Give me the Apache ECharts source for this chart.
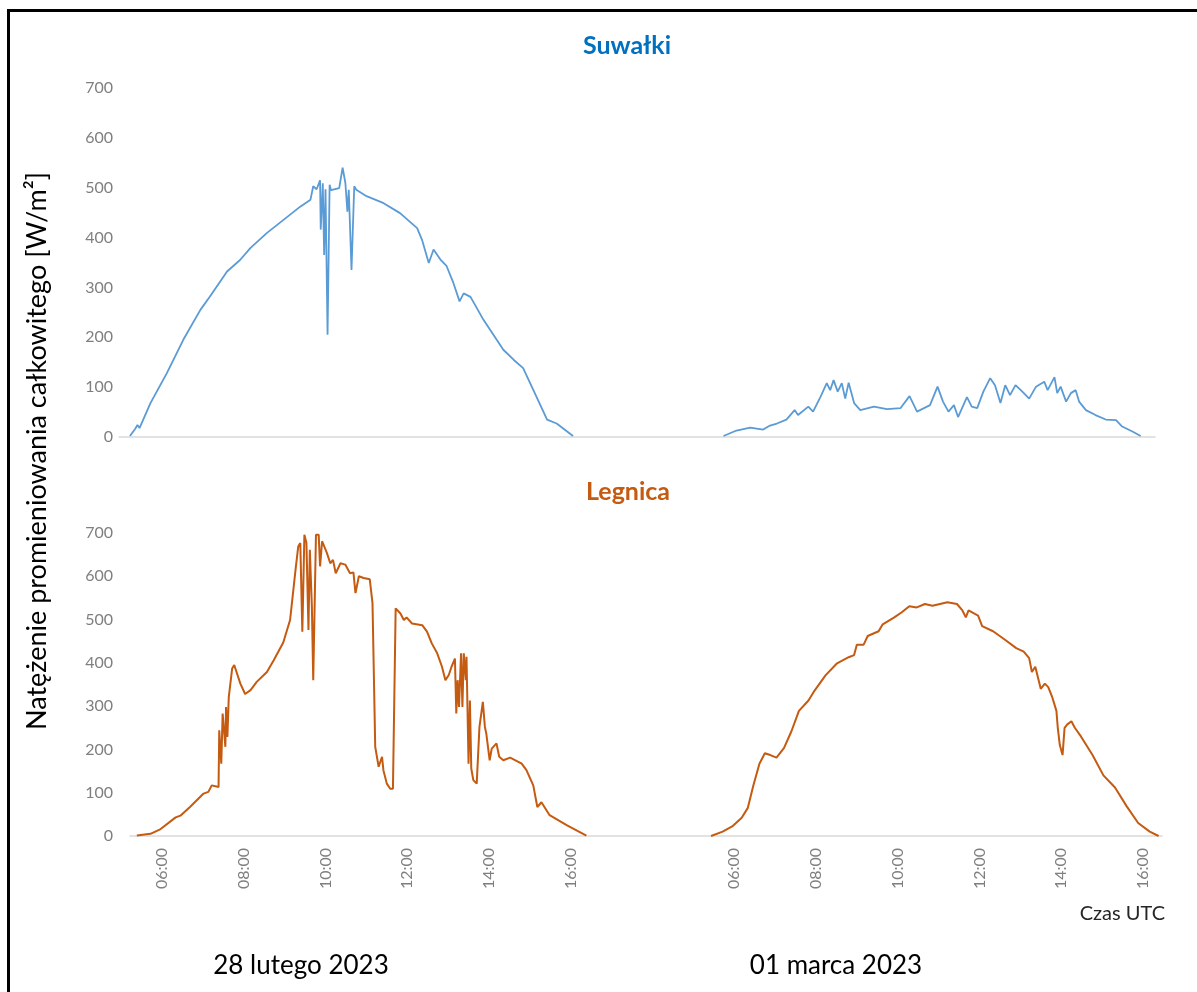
<!DOCTYPE html>
<html>
<head>
<meta charset="utf-8">
<script src="https://cdn.jsdelivr.net/npm/echarts@6/dist/echarts.min.js"></script>
<style>
  html, body { margin: 0; padding: 0; background: #fff; }
  #wrap { position: relative; width: 1197px; height: 992px; }
  #chart { width: 1197px; height: 992px; }
  #frame { position: absolute; left: 7px; top: 9px; right: 0; bottom: 0;
           border-left: 3px solid #000; border-top: 3px solid #000; pointer-events: none; }
</style>
</head>
<body>
<div id="wrap"><div id="chart"></div><div id="frame"></div></div>
<script>
// ---------- DATA ----------
const stations = ['Suwałki', 'Legnica'];
const dayLabels = ['28 lutego 2023', '01 marca 2023'];
const tickTimes = ['06:00', '08:00', '10:00', '12:00', '14:00', '16:00'];
const yTicks = [0, 100, 200, 300, 400, 500, 600, 700];
const axisStart = '05:13';   // day 1
const axisEnd = '16:28';     // day 2

const suwalkiDay1Times = ['05:29','05:37','05:40','05:43','05:59','06:23','06:47','07:12','07:26','07:51','08:10','08:25','08:49','09:14','09:38','09:53','09:57','10:02','10:07','10:08','10:11','10:13','10:15','10:18','10:21','10:23','10:35','10:40','10:44','10:47','10:49','10:53','10:57','11:00','11:15','11:40','12:04','12:29','12:36','12:46','12:53','13:03','13:12','13:22','13:31','13:37','13:47','14:06','14:35','14:50','15:04','15:19','15:39','15:53','16:17'];
const suwalkiDay1Values = [2,17,24,18,68,128,195,255,282,332,355,379,409,436,462,476,503,497,515,416,509,365,497,205,506,495,499,540,510,452,496,335,503,496,483,469,449,419,396,349,376,356,343,309,272,288,281,235,175,155,138,94,35,27,2];

const suwalkiDay2Times = ['05:57','06:16','06:36','06:55','07:05','07:15','07:29','07:41','07:46','08:01','08:08','08:19','08:28','08:33','08:38','08:44','08:50','08:55','09:00','09:08','09:17','09:37','09:56','10:16','10:29','10:40','10:59','11:10','11:18','11:26','11:34','11:40','11:53','12:00','12:08','12:17','12:27','12:34','12:42','12:49','12:56','13:04','13:14','13:24','13:34','13:46','13:51','14:01','14:05','14:10','14:18','14:25','14:32','14:37','14:47','15:01','15:16','15:31','15:40','15:55','16:07'];
const suwalkiDay2Values = [2,13,19,15,23,27,35,54,44,61,51,81,108,94,114,91,108,77,109,68,54,61,56,58,82,51,64,101,71,51,64,40,80,61,58,91,118,104,68,104,84,104,91,77,101,111,94,120,88,101,71,88,94,71,54,44,35,34,21,11,2];

const legnicaDay1Times = ['05:23','05:43','05:58','06:20','06:27','06:41','07:01','07:08','07:13','07:23','07:24','07:27','07:29','07:33','07:34','07:36','07:38','07:43','07:46','07:55','08:02','08:10','08:19','08:34','08:44','08:58','09:08','09:16','09:20','09:23','09:26','09:29','09:32','09:35','09:37','09:40','09:42','09:46','09:50','09:52','09:55','10:02','10:07','10:11','10:15','10:22','10:29','10:36','10:41','10:44','10:49','10:56','11:05','11:09','11:11','11:13','11:18','11:23','11:25','11:30','11:35','11:39','11:43','11:50','11:55','11:59','12:07','12:22','12:29','12:36','12:44','12:51','12:56','13:01','13:05','13:10','13:12','13:14','13:16','13:19','13:21','13:23','13:26','13:27','13:30','13:32','13:34','13:37','13:42','13:46','13:51','13:54','13:56','14:01','14:04','14:11','14:15','14:21','14:31','14:41','14:48','14:55','15:05','15:11','15:17','15:29','15:54','16:23'];
const legnicaDay1Values = [1,5,16,43,47,67,98,102,117,113,244,167,283,206,298,229,321,387,395,352,328,337,356,379,406,447,499,615,669,677,472,696,677,476,661,530,360,696,696,623,681,654,630,638,607,630,627,607,609,561,600,596,593,538,534,206,160,183,152,121,109,109,526,514,499,505,491,487,472,445,422,391,360,372,391,410,283,360,298,422,298,422,360,414,167,313,156,129,121,252,310,252,237,175,202,214,183,175,181,173,167,152,117,67,78,48,25,1];

const legnicaDay2Times = ['05:26','05:43','05:57','06:11','06:20','06:28','06:37','06:45','06:53','07:02','07:13','07:24','07:35','07:49','07:58','08:14','08:31','08:48','08:56','09:00','09:10','09:16','09:32','09:38','09:55','10:06','10:17','10:28','10:40','10:51','11:02','11:13','11:27','11:35','11:40','11:44','11:58','12:04','12:20','12:37','12:54','13:05','13:13','13:17','13:22','13:30','13:36','13:41','13:47','13:53','13:55','13:58','14:02','14:05','14:09','14:15','14:20','14:29','14:46','15:02','15:19','15:36','15:53','16:10','16:23'];
const legnicaDay2Values = [0,10,22,42,65,116,167,191,187,181,203,242,289,313,336,371,399,413,418,442,442,462,473,489,505,517,531,528,536,532,536,540,536,521,505,521,509,485,473,454,434,426,411,379,391,340,352,344,320,289,250,210,187,250,258,265,250,230,187,140,112,69,30,10,0];

// ---------- BUILD ----------
const DAY_GAP = 14; // compressed position of day 2 on the shared axis (hours)
function toAxis(time, day) {
  const p = time.split(':').map(Number);
  return p[0] + p[1] / 60 + day * DAY_GAP;
}
function pairs(times, values, day) {
  return times.map((t, i) => [toAxis(t, day), values[i]]);
}
const tickValues = [];
const tickMap = {};
[0, 1].forEach(d => tickTimes.forEach(t => { const v = toAxis(t, d); tickValues.push(v); tickMap[v.toFixed(3)] = t; }));

const FONT = 'Lato, "Open Sans", sans-serif';
const xMin = toAxis(axisStart, 0), xMax = toAxis(axisEnd, 1);

function xAxis(gridIndex, showLabels) {
  return {
    type: 'value', gridIndex, min: xMin, max: xMax,
    axisLine: { show: true, onZero: true, lineStyle: { color: '#d9d9d9', width: 1.5 } },
    axisTick: { show: false },
    splitLine: { show: false },
    axisLabel: {
      show: showLabels, customValues: tickValues, rotate: 90, margin: 12,
      color: '#7f7f7f', fontSize: 16, fontFamily: FONT,
      formatter: v => tickMap[Number(v).toFixed(3)] || ''
    }
  };
}
function yAxis(gridIndex, margin) {
  return {
    type: 'value', gridIndex, min: yTicks[0], max: yTicks[yTicks.length - 1], interval: 100,
    axisLine: { show: false }, axisTick: { show: false }, splitLine: { show: false },
    axisLabel: { color: '#7f7f7f', fontSize: 16, fontFamily: FONT, margin }
  };
}
function line(name, data, xi, color, width) {
  return {
    name, type: 'line', xAxisIndex: xi, yAxisIndex: xi, data,
    showSymbol: false, symbol: 'none', smooth: false,
    lineStyle: { color, width }, itemStyle: { color }, z: 3
  };
}

const blue = '#5b9bd5', orange = '#c55a11';
const option = {
  backgroundColor: '#ffffff',
  animation: false,
  grid: [
    { left: 119, right: 42, top: 88, bottom: 555 },
    { left: 130, right: 35, top: 533, bottom: 156 }
  ],
  xAxis: [xAxis(0, false), xAxis(1, true)],
  yAxis: [yAxis(0, 6), yAxis(1, 17)],
  series: [
    line(stations[0], pairs(suwalkiDay1Times, suwalkiDay1Values, 0), 0, blue, 1.8),
    line(stations[0], pairs(suwalkiDay2Times, suwalkiDay2Values, 1), 0, blue, 1.8),
    line(stations[1], pairs(legnicaDay1Times, legnicaDay1Values, 0), 1, orange, 2),
    line(stations[1], pairs(legnicaDay2Times, legnicaDay2Values, 1), 1, orange, 2)
  ],
  graphic: [
    { type: 'text', x: 627, y: 46, style: { text: stations[0], fill: '#0070c0', font: 'bold 25px ' + FONT, align: 'center', verticalAlign: 'middle' } },
    { type: 'text', x: 628, y: 492, style: { text: stations[1], fill: '#c55a11', font: 'bold 25px ' + FONT, align: 'center', verticalAlign: 'middle' } },
    { type: 'text', x: 37, y: 451, rotation: Math.PI / 2, style: { text: 'Natężenie promieniowania całkowitego [W/m²]', fill: '#000', font: '27px ' + FONT, align: 'center', verticalAlign: 'middle' } },
    { type: 'text', x: 1165, y: 914, style: { text: 'Czas UTC', fill: '#262626', font: '20px ' + FONT, align: 'right', verticalAlign: 'middle' } },
    { type: 'text', x: 301, y: 966, style: { text: dayLabels[0], fill: '#000', font: '26px ' + FONT, align: 'center', verticalAlign: 'middle' } },
    { type: 'text', x: 836, y: 966, style: { text: dayLabels[1], fill: '#000', font: '26px ' + FONT, align: 'center', verticalAlign: 'middle' } }
  ]
};
const chart = echarts.init(document.getElementById('chart'), null, { renderer: 'canvas' });
chart.setOption(option);
</script>
</body>
</html>
